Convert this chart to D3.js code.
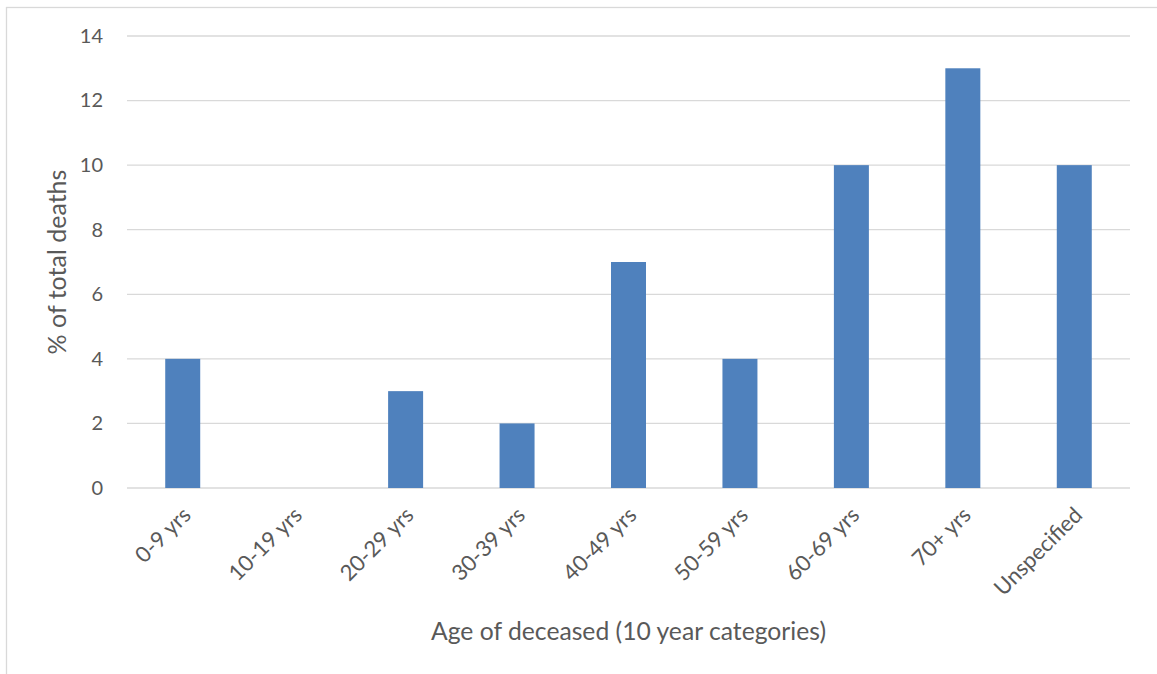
<!DOCTYPE html>
<html>
<head>
<meta charset="utf-8">
<script src="https://cdn.jsdelivr.net/npm/d3@7/dist/d3.min.js"></script>
<style>
  html, body { margin: 0; padding: 0; background: #fff; }
  svg { display: block; }
  text { font-family: Lato, "Open Sans", sans-serif; fill: #595959; }
</style>
</head>
<body>
<svg id="chart" width="1157" height="674"></svg>
<script>
// Share of total deaths by age group
const categories = ["0-9 yrs", "10-19 yrs", "20-29 yrs", "30-39 yrs", "40-49 yrs",
                    "50-59 yrs", "60-69 yrs", "70+ yrs", "Unspecified"];
const deathsPct = [4, 0, 3, 2, 7, 4, 10, 13, 10];
const yTicks = [0, 2, 4, 6, 8, 10, 12, 14];

const svg = d3.select("#chart");
const W = 1157, H = 674;
const plot = { left: 127, right: 1130, top: 36, bottom: 488 };

// outer chart frame
svg.append("rect")
  .attr("x", 6.5).attr("y", 7.5)
  .attr("width", W + 20).attr("height", H + 20)
  .attr("fill", "none").attr("stroke", "#d9d9d9").attr("stroke-width", 1.3);

const x = d3.scaleBand().domain(categories).range([plot.left, plot.right]).padding(0);
const y = d3.scaleLinear().domain([0, 14]).range([plot.bottom, plot.top]);
const barW = x.bandwidth() * 0.314;

// horizontal gridlines
svg.append("g").selectAll("line").data(yTicks).join("line")
  .attr("x1", plot.left).attr("x2", plot.right)
  .attr("y1", d => y(d)).attr("y2", d => y(d))
  .attr("stroke", "#d9d9d9").attr("stroke-width", 1.3);

// y-axis tick labels
const yAxis = d3.axisLeft(y).tickValues(yTicks).tickSize(0).tickPadding(0);
const yg = svg.append("g").attr("transform", `translate(${plot.left - 24},0)`).call(yAxis);
yg.select(".domain").remove();
yg.selectAll("text").attr("font-size", 20).attr("fill", "#595959")
  .style("font-family", "Lato, 'Open Sans', sans-serif");

// bars
svg.append("g").selectAll("rect").data(categories).join("rect")
  .attr("x", (d) => x(d) + (x.bandwidth() - barW) / 2)
  .attr("width", barW)
  .attr("y", (d, i) => y(deathsPct[i]))
  .attr("height", (d, i) => y(0) - y(deathsPct[i]))
  .attr("fill", "#4f81bd");

// x-axis category labels, rotated
const xAxis = d3.axisBottom(x).tickSize(0).tickPadding(0);
const xg = svg.append("g").attr("transform", `translate(0,${plot.bottom})`).call(xAxis);
xg.select(".domain").remove();
xg.selectAll("text")
  .attr("font-size", 22).attr("fill", "#595959")
  .style("font-family", "Lato, 'Open Sans', sans-serif")
  .attr("text-anchor", "end")
  .attr("dy", "0.35em")
  .attr("transform", "translate(4,23) rotate(-45)");

// axis titles
svg.append("text")
  .attr("x", (plot.left + plot.right) / 2).attr("y", 640)
  .attr("text-anchor", "middle").attr("font-size", 24.7)
  .text("Age of deceased (10 year categories)");

svg.append("text")
  .attr("transform", `translate(66,${(plot.top + plot.bottom) / 2}) rotate(-90)`)
  .attr("text-anchor", "middle").attr("font-size", 25)
  .text("% of total deaths");
</script>
</body>
</html>
